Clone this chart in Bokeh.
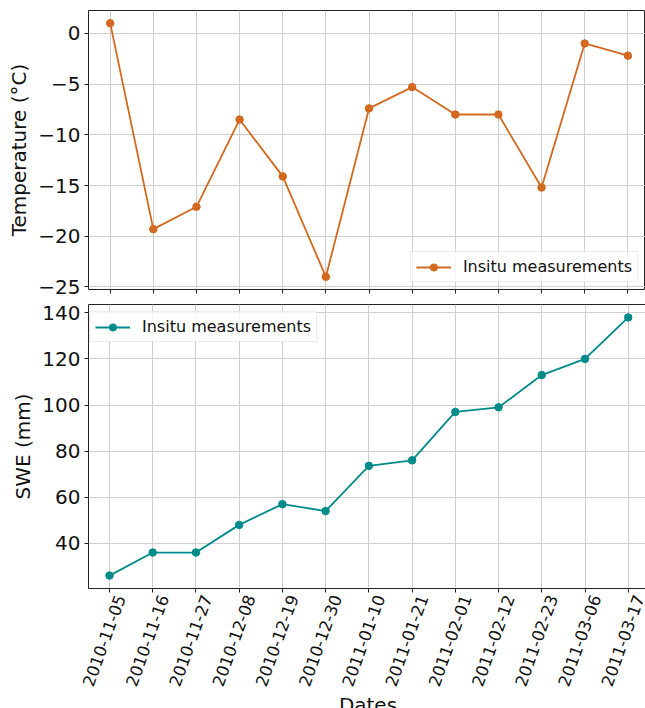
import math
import pandas as pd
from bokeh.plotting import figure
from bokeh.layouts import column
from bokeh.models import (FixedTicker, CustomJSTickFormatter, DatetimeAxis, Range1d)
from bokeh.embed import file_html
from bokeh.resources import INLINE

# Field campaign: in-situ air temperature and snow water equivalent
date_labels = ["2010-11-05", "2010-11-16", "2010-11-27", "2010-12-08", "2010-12-19",
               "2010-12-30", "2011-01-10", "2011-01-21", "2011-02-01", "2011-02-12",
               "2011-02-23", "2011-03-06", "2011-03-17"]
temperature = [1.0, -19.3, -17.1, -8.5, -14.1, -24.0, -7.4, -5.3, -8.0, -8.0, -15.2, -1.0, -2.2]
swe = [26, 36, 36, 48, 57, 54, 73.6, 76, 97, 99, 113, 120, 138]
temp_ticks = [-25, -20, -15, -10, -5, 0]
swe_ticks = [40, 60, 80, 100, 120, 140]

FONT = "DejaVu Sans"
ORANGE = "#d2691e"
TEAL = "#008b8b"
GRID = "#cfcfcf"
INK = "#111111"

dates = pd.to_datetime(date_labels)
date_ms = [d.timestamp() * 1000.0 for d in dates]
DAY = 86400000.0

# date labels are centred under their ticks: place them on a label-only axis
# whose ticks sit a little to the right of the real ones
LABEL_SHIFT = 2.8 * DAY
label_ticks = [t + LABEL_SHIFT for t in date_ms]


def x_range(pad_left, pad_right):
    return Range1d(start=date_ms[0] - pad_left * DAY, end=date_ms[-1] + pad_right * DAY)


def style(p, yticks, ylabel):
    p.outline_line_color = "#222222"
    p.outline_line_width = 1
    p.background_fill_color = "white"
    p.border_fill_color = "white"

    p.xaxis.ticker = FixedTicker(ticks=date_ms)
    p.xgrid.ticker = FixedTicker(ticks=date_ms)
    p.yaxis.ticker = FixedTicker(ticks=yticks)
    p.ygrid.ticker = FixedTicker(ticks=yticks)

    for g in (p.xgrid, p.ygrid):
        g.grid_line_color = GRID
        g.grid_line_width = 1

    for ax in (p.xaxis, p.yaxis):
        ax.axis_line_color = None
        ax.major_tick_out = 4
        ax.major_tick_in = 0
        ax.minor_tick_line_color = None
        ax.major_tick_line_color = "#222222"
        ax.major_label_text_font = FONT
        ax.major_label_text_color = INK
        ax.axis_label_text_font = FONT
        ax.axis_label_text_font_style = "normal"
        ax.axis_label_text_color = INK

    # x ticks carry no text of their own
    p.xaxis.major_label_text_color = None
    p.xaxis.major_label_text_font_size = "1px"
    p.xaxis.major_label_standoff = 0

    p.yaxis.major_label_text_font_size = "20px"
    p.yaxis.major_label_standoff = 4
    p.yaxis.axis_label = ylabel
    p.yaxis.axis_label_text_font_size = "20px"
    p.yaxis.axis_label_standoff = 4
    p.yaxis.formatter = CustomJSTickFormatter(
        code="return tick < 0 ? '\u2212' + Math.abs(tick) : String(tick);")


def style_legend(p, location):
    lg = p.legend[0]
    lg.location = location
    lg.margin = 7
    lg.padding = 5
    lg.spacing = 0
    lg.glyph_width = 35
    lg.glyph_height = 18
    lg.label_standoff = 12
    lg.label_text_font = FONT
    lg.label_text_font_size = "16px"
    lg.label_text_color = INK
    lg.border_line_color = "#d9d9d9"
    lg.border_line_width = 1
    lg.background_fill_alpha = 0.8


# Top panel: temperature
p1 = figure(x_axis_type="datetime", frame_width=557, frame_height=279,
            min_border_left=88, min_border_right=0, min_border_top=10, min_border_bottom=15,
            x_range=x_range(5.53, 4.5), y_range=Range1d(-25.25, 2.25),
            toolbar_location=None, output_backend="svg")
style(p1, temp_ticks, "Temperature (°C)")
p1.line(date_ms, temperature, line_color=ORANGE, line_width=1.8,
        legend_label="Insitu measurements")
p1.scatter(date_ms, temperature, size=7.5, fill_color=ORANGE, line_color=ORANGE,
           legend_label="Insitu measurements")
style_legend(p1, "bottom_right")

# Bottom panel: snow water equivalent
p2 = figure(x_axis_type="datetime", frame_width=559, frame_height=284,
            min_border_left=86, min_border_right=0, min_border_top=0, min_border_bottom=110,
            x_range=x_range(5.34, 4.9), y_range=Range1d(20.4, 143.6),
            toolbar_location=None, output_backend="svg")
style(p2, swe_ticks, "SWE (mm)")

date_axis = DatetimeAxis(
    ticker=FixedTicker(ticks=label_ticks),
    formatter=CustomJSTickFormatter(
        args=dict(shift=LABEL_SHIFT),
        code="return new Date(tick - shift).toISOString().slice(0, 10);"),
    axis_line_color=None, major_tick_line_color=None, minor_tick_line_color=None,
    major_tick_out=0, major_tick_in=0,
    major_label_orientation=math.radians(70), major_label_standoff=3,
    major_label_text_font=FONT, major_label_text_font_size="16.5px",
    major_label_text_color=INK,
    axis_label="Dates", axis_label_standoff=0, axis_label_text_font=FONT,
    axis_label_text_font_size="20px", axis_label_text_font_style="normal",
    axis_label_text_color=INK)
p2.add_layout(date_axis, "below")

p2.line(date_ms, swe, line_color=TEAL, line_width=1.8, legend_label="Insitu measurements")
p2.scatter(date_ms, swe, size=7.5, fill_color=TEAL, line_color=TEAL,
           legend_label="Insitu measurements")
style_legend(p2, "top_left")

layout = column(p1, p2, spacing=0)
open("out.html", "w").write(file_html(layout, INLINE))
